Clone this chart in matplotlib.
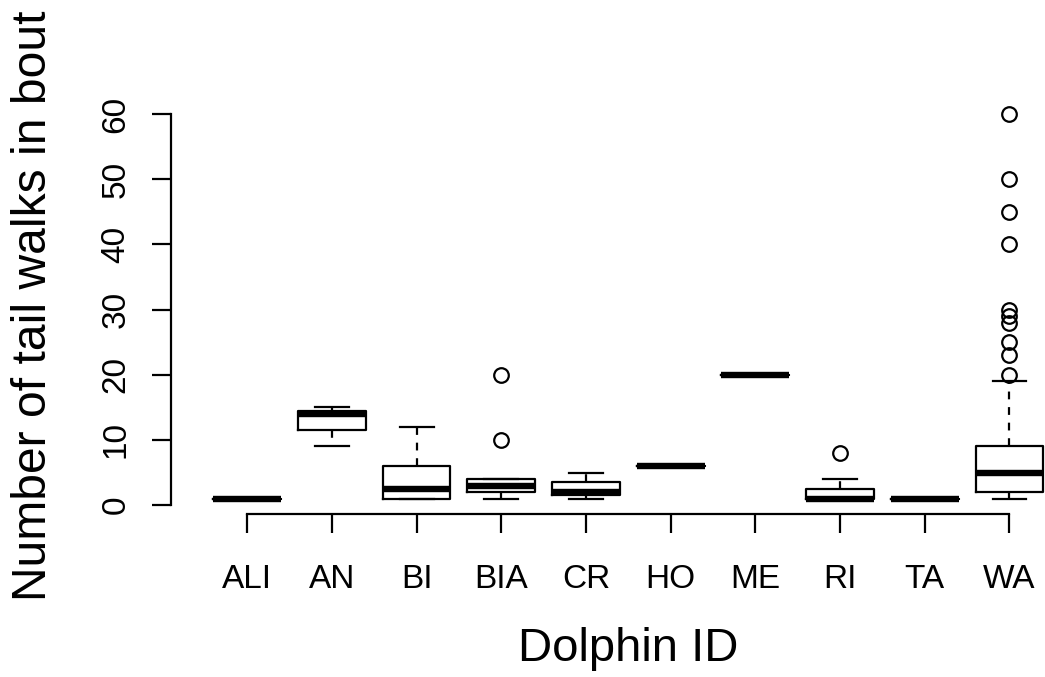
import matplotlib
matplotlib.use('Agg')
import matplotlib.pyplot as plt

# --- данные ---
dolphins = ['ALI', 'AN', 'BI', 'BIA', 'CR', 'HO', 'ME', 'RI', 'TA', 'WA']
q1 =      [1, 11.5, 1,   2, 1.5, 6, 20, 1,   1, 2]
median =  [1, 14,   2.5, 3, 2,   6, 20, 1,   1, 5]
q3 =      [1, 14.5, 6,   4, 3.5, 6, 20, 2.5, 1, 9]
wlow =    [1, 9,    1,   1, 1,   6, 20, 1,   1, 1]
whigh =   [1, 15,   12,  4, 5,   6, 20, 4,   1, 19]
outliers = [[], [], [], [10, 20], [], [], [], [8], [],
            [20, 23, 25, 28, 29, 30, 40, 45, 50, 60]]

stats = []
for i in range(len(dolphins)):
    stats.append({'label': dolphins[i], 'q1': q1[i], 'med': median[i], 'q3': q3[i],
                  'whislo': wlow[i], 'whishi': whigh[i], 'fliers': outliers[i]})

plt.rcParams['font.family'] = ['Liberation Sans', 'DejaVu Sans']

fig = plt.figure(figsize=(10.45, 6.77), dpi=100)
ax = fig.add_axes([0.1636, 0.2408, 0.8364, 0.6136])

lw = 1.6
ax.bxp(stats, positions=range(1, 11), widths=0.8, capwidths=0.4,
       boxprops=dict(color='black', linewidth=lw),
       whiskerprops=dict(color='black', linewidth=lw, linestyle=(0, (3.5, 3.5))),
       capprops=dict(color='black', linewidth=lw),
       medianprops=dict(color='black', linewidth=4.6, solid_capstyle='butt'),
       flierprops=dict(marker='o', markersize=10.5, markerfacecolor='none',
                       markeredgecolor='black', markeredgewidth=1.6))

ax.set_xlim(0.1, 1 + (1045 - 246.7) / 84.75)
ax.set_ylim(-1.36, 62.36)

ax.set_xticks(range(1, 11))
ax.set_xticklabels(dolphins, fontsize=24)
ax.set_yticks(range(0, 61, 10))
ax.set_yticklabels([str(v) for v in range(0, 61, 10)], fontsize=24,
                   rotation=90, va='center')
ax.tick_params(axis='both', length=14, width=lw, direction='out', color='black')
ax.tick_params(axis='x', pad=22)
ax.tick_params(axis='y', pad=14.5)

ax.spines['top'].set_visible(False)
ax.spines['right'].set_visible(False)
ax.spines['left'].set_bounds(0, 60)
ax.spines['bottom'].set_bounds(1, 10)
ax.spines['left'].set_linewidth(lw)
ax.spines['bottom'].set_linewidth(lw)

fig.text(0.601, 0.0241, 'Dolphin ID', fontsize=34, ha='center', va='baseline')
fig.text(0.0325, 0.548, 'Number of tail walks in bout', fontsize=34.6,
         rotation=90, ha='center', va='center')

fig.savefig('out.png', dpi=100)
